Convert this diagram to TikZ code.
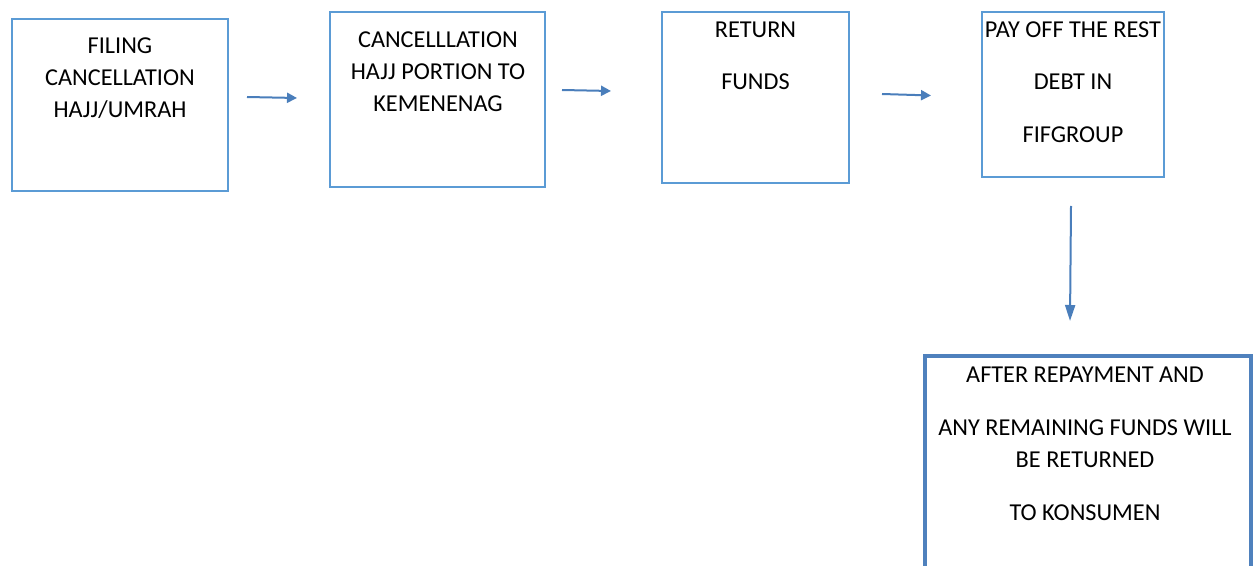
\documentclass[tikz,border=0pt]{standalone}
\usepackage{fontspec}
\setmainfont{Carlito}
\usetikzlibrary{arrows.meta}
\definecolor{BoxClr}{RGB}{91,155,213}
\definecolor{BigBoxClr}{RGB}{79,129,189}
\definecolor{ArrClr}{RGB}{74,126,187}

\begin{document}
\begin{tikzpicture}[x=0.75pt,y=-0.75pt,
  stepbox/.style={draw=BoxClr,line width=1.8pt,inner sep=0pt,outer sep=0pt},
  lastbox/.style={draw=BigBoxClr,line width=3pt,inner sep=0pt,outer sep=0pt},
  boxtext/.style={anchor=north,inner sep=0pt,align=center,font=\fontsize{18.2}{24}\selectfont},
  flow/.style={draw=ArrClr,line width=1.5pt,-{Triangle[length=7.5pt,width=7.5pt]}}]
\clip (0,0) rectangle (1256,566);

% boxes
\node[stepbox,minimum width=162pt,minimum height=129pt] (filing) at (120,105) {};
\node[stepbox,minimum width=161.25pt,minimum height=131.25pt] (cancel) at (437.5,99.5) {};
\node[stepbox,minimum width=140.25pt,minimum height=128.25pt] (return) at (755.5,97.5) {};
\node[stepbox,minimum width=136.5pt,minimum height=123.75pt] (payoff) at (1073,94.5) {};
\node[lastbox,minimum width=244.5pt,minimum height=198pt] (after) at (1088,488) {};

% texts
\node[boxtext] (filingtxt) at (120,37.5) {FILING\\CANCELLATION\\HAJJ/UMRAH};
\node[boxtext] (canceltxt) at (438,31.5) {CANCELLLATION\\HAJJ PORTION TO\\KEMENENAG};
\node[boxtext] (returntxt) at (755.5,21.5) {RETURN\\[15pt]FUNDS};
\node[boxtext] (payofftxt) at (1073,21.5) {PAY OFF THE REST\\[15pt]DEBT IN\\[15.75pt]FIFGROUP};
\node[boxtext] (aftertxt) at (1085,366.5) {AFTER REPAYMENT AND\\[15.75pt]ANY REMAINING FUNDS WILL\\BE RETURNED\\[15.75pt]TO KONSUMEN};

% arrows
\coordinate (a1s) at (247,97);   \coordinate (a1e) at (297,98);
\coordinate (a2s) at (562,90);   \coordinate (a2e) at (611,91);
\coordinate (a3s) at (882,94);   \coordinate (a3e) at (931,95.5);
\coordinate (a4s) at (1071,206); \coordinate (a4e) at (1070,321);

\draw[flow] (a1s) -- (a1e);
\draw[flow] (a2s) -- (a2e);
\draw[flow] (a3s) -- (a3e);
\draw[flow,-{Triangle[length=12pt,width=7.5pt]}] (a4s) -- (a4e);

\end{tikzpicture}
\end{document}
